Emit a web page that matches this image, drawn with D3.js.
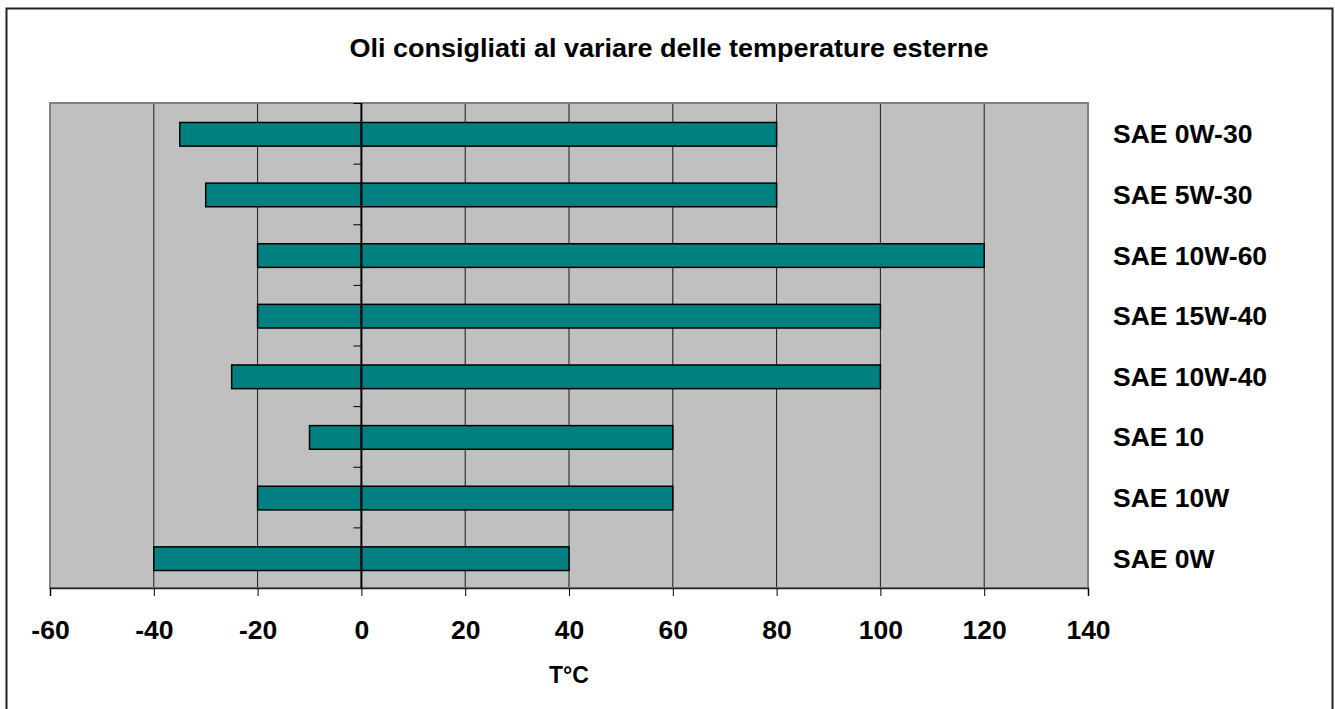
<!DOCTYPE html>
<html>
<head>
<meta charset="utf-8">
<script src="https://cdn.jsdelivr.net/npm/d3@7"></script>
<style>
  html, body { margin: 0; padding: 0; background: #fff; }
  svg { display: block; }
  text { font-family: "Liberation Sans", Arial, sans-serif; font-weight: bold; fill: #000; }
</style>
</head>
<body>
<svg id="chart" width="1335" height="709"></svg>
<script>
const title = "Oli consigliati al variare delle temperature esterne";
const xAxisTitle = "T°C";
const categories = ["SAE 0W-30", "SAE 5W-30", "SAE 10W-60", "SAE 15W-40", "SAE 10W-40", "SAE 10", "SAE 10W", "SAE 0W"];
const minTemp = [-35, -30, -20, -20, -25, -10, -20, -40];
const maxTemp = [80, 80, 120, 100, 100, 60, 60, 40];
const xTicks = [-60, -40, -20, 0, 20, 40, 60, 80, 100, 120, 140];

const svg = d3.select("#chart");
const plot = { left: 50, right: 1088, top: 103, bottom: 588 };

// outer frame
svg.append("rect")
  .attr("x", 6.5).attr("y", 8.5)
  .attr("width", 1326).attr("height", 710)
  .attr("fill", "#fff").attr("stroke", "#222").attr("stroke-width", 2);

const x = d3.scaleLinear().domain([-60, 140]).range([plot.left, plot.right]);
const y = d3.scaleBand().domain(categories).range([plot.top, plot.bottom]).paddingInner(0).paddingOuter(0);

// plot background
svg.append("rect")
  .attr("x", plot.left).attr("y", plot.top)
  .attr("width", plot.right - plot.left).attr("height", plot.bottom - plot.top)
  .attr("fill", "#c0c0c0");

// gridlines
svg.append("g").selectAll("line")
  .data(xTicks.filter(t => t !== -60 && t !== 140 && t !== 0))
  .join("line")
  .attr("x1", d => x(d)).attr("x2", d => x(d))
  .attr("y1", plot.top).attr("y2", plot.bottom)
  .attr("stroke", "#1a1a1a").attr("stroke-width", 1);

// plot border
svg.append("rect")
  .attr("x", plot.left).attr("y", plot.top)
  .attr("width", plot.right - plot.left).attr("height", plot.bottom - plot.top)
  .attr("fill", "none").attr("stroke", "#808080").attr("stroke-width", 2);

// bars (two segments: negative part and positive part)
const barH = y.bandwidth() * 0.39;
const rows = categories.map((c, i) => ({ c, lo: minTemp[i], hi: maxTemp[i] }));
const gBars = svg.append("g");
gBars.selectAll("rect.neg").data(rows).join("rect")
  .attr("class", "neg")
  .attr("x", d => x(Math.min(d.lo, 0)))
  .attr("width", d => Math.abs(x(0) - x(d.lo)))
  .attr("y", d => y(d.c) + (y.bandwidth() - barH) / 2 + 1)
  .attr("height", barH)
  .attr("fill", "#008080").attr("stroke", "#000").attr("stroke-width", 1.5);
gBars.selectAll("rect.pos").data(rows).join("rect")
  .attr("class", "pos")
  .attr("x", d => x(0))
  .attr("width", d => x(d.hi) - x(0))
  .attr("y", d => y(d.c) + (y.bandwidth() - barH) / 2 + 1)
  .attr("height", barH)
  .attr("fill", "#008080").attr("stroke", "#000").attr("stroke-width", 1.5);

// x axis
const xAxis = d3.axisBottom(x).tickValues(xTicks).tickSize(8).tickPadding(24).tickFormat(d => String(d));
const gx = svg.append("g").attr("transform", `translate(0,${plot.bottom})`).call(xAxis);
gx.select(".domain").attr("stroke", "#222").attr("stroke-width", 1.5);
gx.selectAll(".tick line").attr("stroke", "#000").attr("stroke-width", 1);
gx.selectAll(".tick text")
  .style("font-size", "26.5px")
  .style("font-family", "'Liberation Sans', Arial, sans-serif")
  .style("font-weight", "bold")
  .attr("fill", "#000")
  .attr("dy", "0.71em");

// y axis at 0 with ticks at band boundaries
const yLine = svg.append("g");
yLine.append("line")
  .attr("x1", x(0)).attr("x2", x(0))
  .attr("y1", plot.top).attr("y2", plot.bottom)
  .attr("stroke", "#000").attr("stroke-width", 2);
yLine.selectAll("line.tk").data(categories).join("line")
  .attr("class", "tk")
  .attr("x1", x(0) - 8).attr("x2", x(0))
  .attr("y1", d => y(d) + 0.5).attr("y2", d => y(d) + 0.5)
  .attr("stroke", "#000").attr("stroke-width", 1);

// category labels on the right
svg.append("g").selectAll("text").data(categories).join("text")
  .attr("x", 1113)
  .attr("y", d => y(d) + y.bandwidth() / 2 + 10)
  .style("font-size", "26.5px")
  .text(d => d);

// title
svg.append("text")
  .attr("x", 669).attr("y", 57)
  .attr("text-anchor", "middle")
  .style("font-size", "25.5px")
  .attr("textLength", 639).attr("lengthAdjust", "spacingAndGlyphs")
  .text(title);

// x axis title
svg.append("text")
  .attr("x", (plot.left + plot.right) / 2).attr("y", 683)
  .attr("text-anchor", "middle")
  .style("font-size", "23px")
  .text(xAxisTitle);
</script>
</body>
</html>
